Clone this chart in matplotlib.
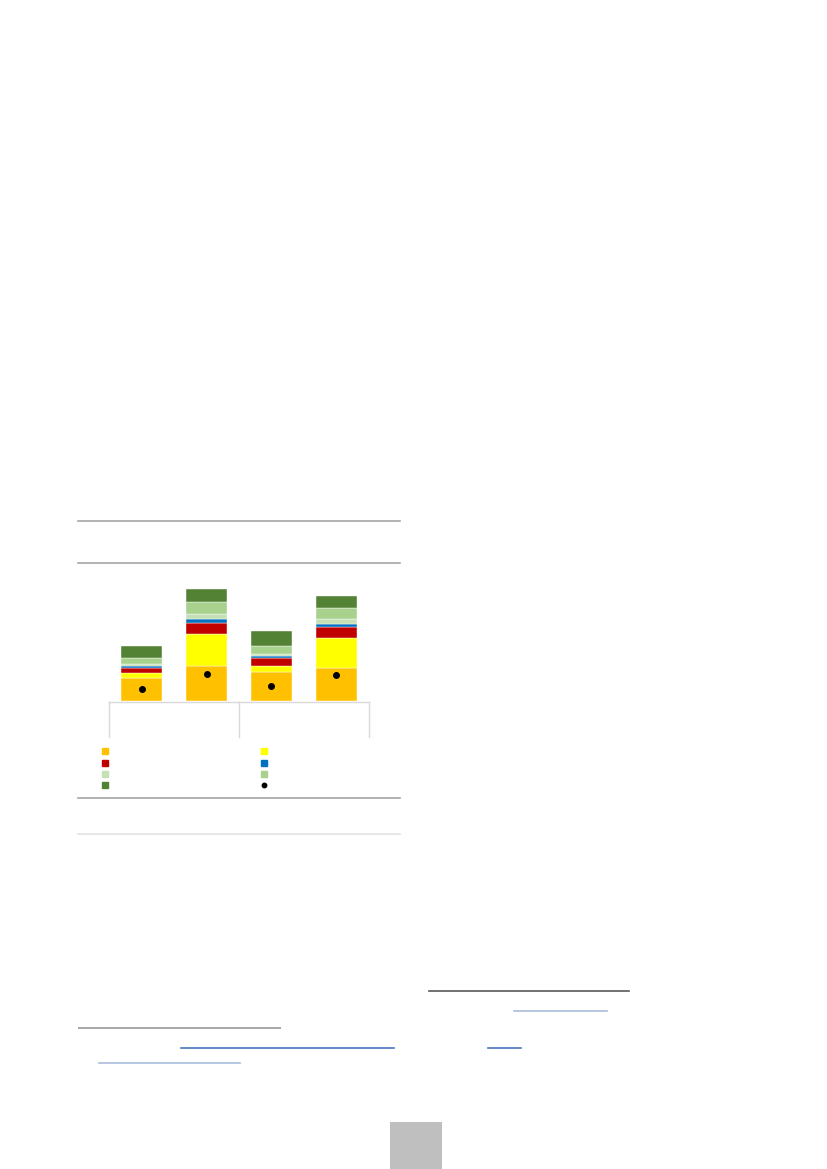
import numpy as np
import matplotlib
matplotlib.use('Agg')
import matplotlib.pyplot as plt

# 四根柱子（两组，每组两根），各分项的数值
categories = ['A1', 'A2', 'B1', 'B2']
orange = [2.33, 3.53, 2.93, 3.33]
yellow = [0.47, 3.17, 0.57, 2.97]
red = [0.53, 1.13, 0.80, 1.13]
blue = [0.17, 0.33, 0.20, 0.23]
light_green = [0.20, 0.53, 0.20, 0.53]
mid_green = [0.60, 1.23, 0.80, 1.13]
dark_green = [1.23, 1.33, 1.50, 1.23]
dots = [1.17, 2.73, 1.50, 2.57]

series = [orange, yellow, red, blue, light_green, mid_green, dark_green]
colors = ['#FFC000', '#FFFF00', '#C00000', '#0070C0', '#C5E0B4', '#A9D18E', '#548235']

W, H = 827, 1169
fig = plt.figure(figsize=(W / 100, H / 100), dpi=100)

# 整页的装饰元素用一个覆盖整页的坐标系来画（像素坐标）
page = fig.add_axes([0, 0, 1, 1])
page.set_xlim(0, W)
page.set_ylim(H, 0)
page.axis('off')

# 图表上下的分隔线
for y, c in [(521, '#a6a6a6'), (562.5, '#a6a6a6'), (797.5, '#a6a6a6'), (833.5, '#e3e3e3')]:
    page.plot([78, 400], [y, y], color=c, lw=1.2)

# 多层分类轴的分隔线
page.plot([109.3, 368.7], [701.5, 701.5], color='#d9d9d9', lw=1)
for x in [109.3, 239.0, 368.7]:
    page.plot([x, x], [701.5, 737], color='#d9d9d9', lw=1)

# 图例（文字已去除，只剩色块）
leg_items = colors + ['dot']
for i, c in enumerate(leg_items):
    col, row = i % 2, i // 2
    x = 105 if col == 0 else 263.5
    y = [751.3, 762.7, 774, 785.3][row]
    if c == 'dot':
        page.plot(x, y, 'o', color='black', ms=3.2)
    else:
        page.plot(x, y, 's', color=c, ms=4.5)

# 页脚的线和链接下划线
page.plot([429, 629], [990.5, 990.5], color='#595959', lw=1.2)
page.plot([514, 607], [1011, 1011], color='#a9bcdc', lw=1.2)
page.plot([79, 280], [1028, 1028], color='#a6a6a6', lw=1.4)
page.plot([181, 394], [1048.3, 1048.3], color='#4a74bf', lw=1.2)
page.plot([488, 521], [1048.3, 1048.3], color='#4a74bf', lw=1.2)
page.plot([99, 240], [1062.7, 1062.7], color='#a9bcdc', lw=1.2)
page.add_patch(plt.Rectangle((390, 1122), 52, 47, color='#bfbfbf', lw=0))

# 堆叠柱状图
ax = fig.add_axes([109.3 / W, 1 - 701 / H, 259.4 / W, 131 / H])
ax.patch.set_alpha(0)
x = np.arange(len(categories))
bottom = np.zeros(len(categories))
for vals, c in zip(series, colors):
    ax.bar(x, vals, 0.63, bottom=bottom, color=c, edgecolor='white', linewidth=0.3)
    bottom += np.array(vals)
ax.plot(x, dots, 'o', color='black', ms=4)
ax.set_xlim(-0.5, 3.5)
ax.set_ylim(0, 13.1)
ax.axis('off')

fig.savefig('out.png', dpi=100)
